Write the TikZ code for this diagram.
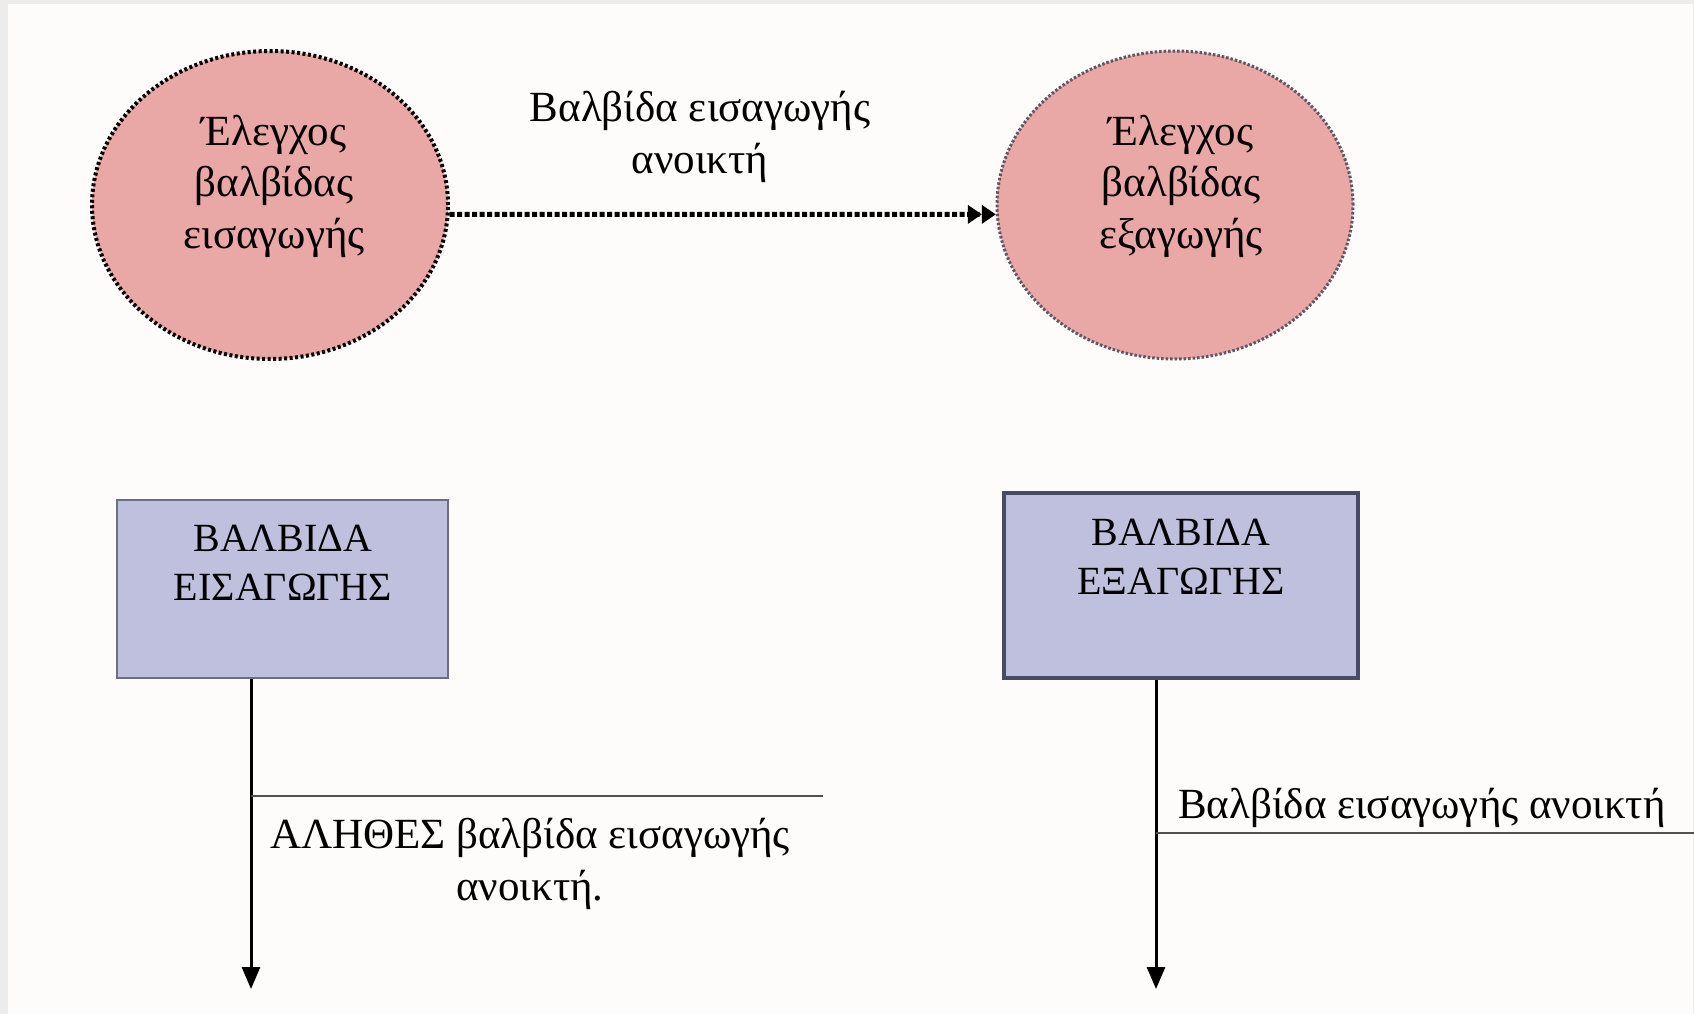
\documentclass[tikz,border=0pt]{standalone}
\usepackage{fontspec}
\setmainfont{Liberation Serif}
\usetikzlibrary{shapes.geometric,arrows.meta}
\definecolor{framegray}{HTML}{ECECEC}
\definecolor{paper}{HTML}{FDFCFA}
\definecolor{checkpink}{HTML}{E9A7A5}
\definecolor{valveblue}{HTML}{BFC0DD}
\definecolor{edgeleft}{HTML}{6B6F82}
\definecolor{edgeright}{HTML}{474C66}
\definecolor{dotgray}{HTML}{5E5566}
\definecolor{rulegray}{HTML}{505050}
\begin{document}
\begin{tikzpicture}[x=1pt,y=-1pt,
  every node/.style={font=\fontsize{43}{51.5}\selectfont, align=center, inner sep=0pt},
  capstext/.style={font=\fontsize{40}{49}\selectfont},
  checkell/.style={ellipse, fill=checkpink, minimum width=356pt, minimum height=308pt},
  valvebox/.style={rectangle, fill=valveblue},
  dotlink/.style={line width=5pt, dash pattern=on 5pt off 2.5pt,
    -{Triangle[length=14pt,width=18pt]Triangle[length=14pt,width=18pt]}},
  flow/.style={line width=3pt, -{Triangle[length=22pt,width=18pt]}},
  condrule/.style={line width=2pt, draw=rulegray}
]
\useasboundingbox (0,0) rectangle (1694,1014);
\fill[framegray] (0,0) rectangle (1694,1014);
\fill[paper] (8,4) rectangle (1693,1014);

% state bubbles
\node[checkell, draw=black, line width=4pt, dash pattern=on 3pt off 2.5pt] (e1) at (270,205) {};
\node[checkell, draw=dotgray, line width=3pt, dash pattern=on 2.5pt off 2pt] (e2) at (1175,205) {};
\node (e1t) at (274,186) {Έλεγχος\\βαλβίδας\\εισαγωγής};
\node (e2t) at (1181,186) {Έλεγχος\\βαλβίδας\\εξαγωγής};

% transition between the bubbles
\draw[dotlink] (e1.-3) -- (e2.183);
\node (tl) at (700,137) {Βαλβίδα εισαγωγής\\ανοικτή};

% valve blocks
\node[valvebox, draw=edgeleft, line width=1.5pt, minimum width=331pt, minimum height=178pt] (b1) at (282.5,589) {};
\node[valvebox, draw=edgeright, line width=4pt, minimum width=354pt, minimum height=185pt] (b2) at (1181,585.5) {};
\node[capstext] (b1t) at (283,563) {ΒΑΛΒΙΔΑ\\ΕΙΣΑΓΩΓΗΣ};
\node[capstext] (b2t) at (1181,557) {ΒΑΛΒΙΔΑ\\ΕΞΑΓΩΓΗΣ};

% timelines with their conditions
\coordinate (d1) at (251,989);
\coordinate (d2) at (1156,989);
\draw[flow] (d1 |- b1.south) -- (d1);
\draw[flow] (d2 |- b2.south) -- (d2);

\coordinate (h1a) at (251,796);
\coordinate (h1b) at (823,796);
\coordinate (h2a) at (1156,833);
\coordinate (h2b) at (1694,833);
\draw[condrule] (h1a) -- (h1b);
\draw[condrule] (h2a) -- (h2b);

\node (c1) at (530,864) {ΑΛΗΘΕΣ βαλβίδα εισαγωγής\\ανοικτή.};
\node (c2) at (1422,808) {Βαλβίδα εισαγωγής ανοικτή};
\end{tikzpicture}
\end{document}
